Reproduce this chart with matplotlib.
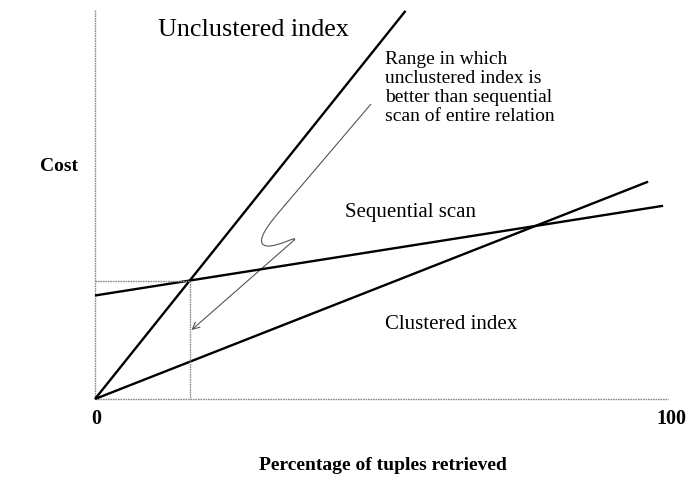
import numpy as np
import matplotlib
matplotlib.use("Agg")
import matplotlib.pyplot as plt
from matplotlib.path import Path
from matplotlib.patches import PathPatch, FancyArrowPatch

plt.rcParams['font.family'] = ['Liberation Serif', 'DejaVu Serif']

# Cost curves: percentage of tuples retrieved vs. cost
unclustered_pct = [0, 54.0]
unclustered_cost = [0, 67.5]
clustered_pct = [0, 96.2]
clustered_cost = [0, 37.8]
sequential_pct = [0, 98.8]
sequential_cost = [18.0, 33.6]

x_ticks = [0, 100]
x_tick_labels = ["0", "100"]

fig = plt.figure(figsize=(6.89, 4.82), dpi=100)
ax = fig.add_axes([0, 0, 1, 1])
px = 5.75  # pixels per unit on both axes
ax.set_xlim(-95 / px, 594 / px)
ax.set_ylim(-83 / px, 399 / px)
ax.axis("off")

axis_color = "#8a8a8a"
# axes drawn as thin halftone lines
ax.plot([0, 0], [0, 67.6], color=axis_color, lw=1.0, ls=(0, (1.2, 0.6)))
ax.plot([0, 99.6], [0, 0], color=axis_color, lw=1.0, ls=(0, (1.2, 0.6)))

# the three cost lines
ax.plot(unclustered_pct, unclustered_cost, color="black", lw=1.7, solid_capstyle="butt")
ax.plot(clustered_pct, clustered_cost, color="black", lw=1.7, solid_capstyle="butt")
ax.plot(sequential_pct, sequential_cost, color="black", lw=1.7, solid_capstyle="butt")

# crossover of unclustered index and sequential scan
su = (unclustered_cost[1] - unclustered_cost[0]) / (unclustered_pct[1] - unclustered_pct[0])
ss = (sequential_cost[1] - sequential_cost[0]) / (sequential_pct[1] - sequential_pct[0])
cx = (sequential_cost[0] - unclustered_cost[0]) / (su - ss)
cy = unclustered_cost[0] + su * cx
ax.plot([0, cx, cx], [cy, cy, 0], color=axis_color, lw=1.0, ls=(0, (1.2, 0.6)))

# squiggly pointer to the range below the crossover
verts = [
    (48.0, 51.3),
    (32.0, 32.5),
    (29.0, 29.0), (28.0, 26.8), (30.0, 26.6),
    (32.0, 26.5), (35.5, 28.6), (34.6, 27.6),
]
codes = [Path.MOVETO, Path.LINETO,
         Path.CURVE4, Path.CURVE4, Path.CURVE4,
         Path.CURVE4, Path.CURVE4, Path.CURVE4]
ax.add_patch(PathPatch(Path(verts, codes), fill=False, edgecolor="#555555", lw=0.8))
ax.add_patch(FancyArrowPatch((34.6, 27.6), (cx + 0.3, 12.0),
                             arrowstyle="->,head_length=5,head_width=2.5",
                             color="#555555", lw=0.8, mutation_scale=1,
                             shrinkA=0, shrinkB=0))

# labels
ax.text(11.0, 64.2, "Unclustered index", fontsize=18.8, ha="left", va="center")
ax.text(50.5, 60.6, "Range in which\nunclustered index is\nbetter than sequential\nscan of entire relation",
        fontsize=14, ha="left", va="top", linespacing=1.17)
ax.text(43.5, 32.4, "Sequential scan", fontsize=15, ha="left", va="center")
ax.text(50.5, 13.0, "Clustered index", fontsize=15, ha="left", va="center")
ax.text(-6.3, 40.4, "Cost", fontsize=14, fontweight="bold", ha="center", va="center")
for t, lab in zip(x_ticks, x_tick_labels):
    ax.text(t + 0.3, -3.5, lab, fontsize=14.5, fontweight="bold", ha="center", va="center")
ax.text(50.0, -11.6, "Percentage of tuples retrieved", fontsize=14, fontweight="bold",
        ha="center", va="center")

fig.savefig("out.png", dpi=100)
